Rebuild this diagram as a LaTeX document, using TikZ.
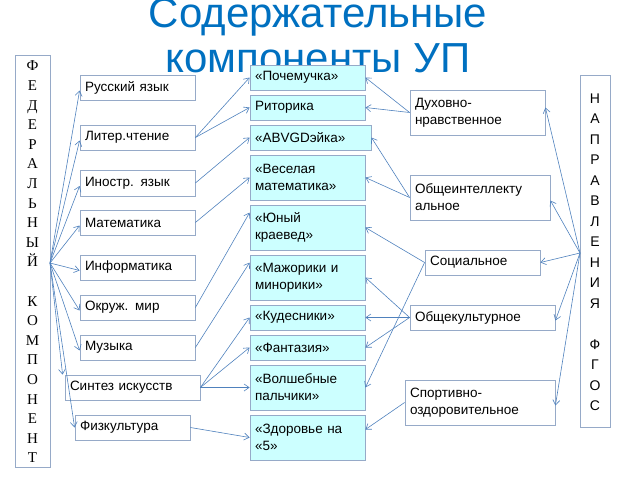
\documentclass[tikz,border=0pt]{standalone}
\usepackage{fontspec}
\setmainfont{Liberation Sans}
\newfontfamily\serifc{Liberation Serif}
\usetikzlibrary{arrows.meta}
\definecolor{arr}{RGB}{79,129,189}
\definecolor{bord}{RGB}{150,170,200}
\definecolor{cy}{RGB}{204,255,255}
\definecolor{ttl}{RGB}{0,112,192}
\tikzset{
 bx/.style={draw=bord,line width=0.8pt,fill=white,font=\fontsize{13.5}{17}\selectfont,inner sep=3pt},
 cb/.style={bx,fill=cy},
 ar/.style={draw=arr,line width=0.6pt,-{Straight Barb[length=5pt,width=7pt]}},
}
% box: name, x1,y1,x2,y2, style, text
\newcommand{\mybox}[7]{\node[#6,minimum width={(#4-#2)*1pt},minimum height={(#5-#3)*1pt},text width={(#4-#2-10)*1pt},align=left] (#1) at ({(#2+#4)/2},{(#3+#5)/2}) {#7};}
\begin{document}
\begin{tikzpicture}[x=1pt,y=-1pt]
\useasboundingbox (0,0) rectangle (640,480);
\node[text=ttl,font=\fontsize{42}{45}\selectfont,align=center] (title) at (318,36) {Содержательные\\компоненты УП};
\node[draw=bord,line width=0.8pt,fill=white,minimum width=35pt,minimum height=412pt,inner sep=0pt] (F) at (32.5,261) {};
\node[font=\serifc\fontsize{15}{19.6}\selectfont,align=center] (Ft) at (32.5,262) {Ф\\Е\\Д\\Е\\Р\\А\\Л\\Ь\\Н\\Ы\\Й\\[19.6pt]К\\О\\М\\П\\О\\Н\\Е\\Н\\Т};
\node[draw=bord,line width=0.8pt,fill=white,minimum width=30pt,minimum height=352pt,inner sep=0pt] (N) at (595,251) {};
\node[font=\fontsize{14}{20.5}\selectfont,align=center] (Nt) at (595,252) {Н\\А\\П\\Р\\А\\В\\Л\\Е\\Н\\И\\Я\\[20.5pt]Ф\\Г\\О\\С};
\coordinate (Fo) at (50,263);
\coordinate (No) at (580,253);
% left
\mybox{l1}{80}{75}{195}{100}{bx}{Русский язык}
\mybox{l2}{80}{125}{195}{150}{bx}{Литер.чтение}
\mybox{l3}{80}{170}{195}{196}{bx}{Иностр. язык}
\mybox{l4}{80}{210}{195}{235}{bx}{Математика}
\mybox{l5}{80}{255}{195}{280}{bx}{Информатика}
\mybox{l6}{80}{295}{195}{320}{bx}{Окруж. мир}
\mybox{l7}{80}{335}{195}{360}{bx}{Музыка}
\mybox{l8}{65}{375}{200}{400}{bx}{Синтез искусств}
\mybox{l9}{75}{415}{190}{440}{bx}{Физкультура}
% middle
\mybox{m1}{250}{65}{365}{90}{cb}{«Почемучка»}
\mybox{m2}{250}{95}{365}{120}{cb}{Риторика}
\mybox{m3}{250}{125}{371}{150}{cb}{«ABVGDэйка»}
\mybox{m4}{250}{155}{365}{200}{cb}{«Веселая\\математика»}
\mybox{m5}{250}{205}{365}{250}{cb}{«Юный\\краевед»}
\mybox{m6}{250}{255}{365}{300}{cb}{«Мажорики и\\минорики»}
\mybox{m7}{250}{305}{365}{330}{cb}{«Кудесники»}
\mybox{m8}{250}{335}{365}{360}{cb}{«Фантазия»}
\mybox{m9}{250}{365}{365}{410}{cb}{«Волшебные\\пальчики»}
\mybox{m10}{250}{415}{365}{460}{cb}{«Здоровье на\\«5»}
% right
\mybox{r1}{410}{90}{545}{135}{bx}{Духовно-\\нравственное}
\mybox{r2}{410}{175}{550}{220}{bx}{Общеинтеллекту\\альное}
\mybox{r3}{425}{250}{540}{275}{bx}{Социальное}
\mybox{r4}{410}{305}{555}{330}{bx}{Общекультурное}
\mybox{r5}{405}{380}{555}{425}{bx}{Спортивно-\\оздоровительное}
% F arrows
\foreach \t in {l1,l2,l3,l4,l5,l6,l7} \draw[ar] (Fo) -- ([yshift=-3pt]\t.west);
\draw[ar] (Fo) -- ([xshift=-2pt]l8.north west);
\draw[ar] (Fo) -- (l9.west);
% left to middle
\draw[ar] (l2.east) -- (m1.west);
\draw[ar] (l2.east) -- (m2.west);
\draw[ar] (l3.east) -- (m3.west);
\draw[ar] (l4.east) -- (m4.west);
\draw[ar] (l6.east) -- ([yshift=-8pt]m5.north west);
\draw[ar] (l7.east) -- ([yshift=-8pt]m6.north west);
\draw[ar] (l8.east) -- (m7.west);
\draw[ar] (l8.east) -- (m8.west);
\draw[ar] (l8.east) -- (m9.west);
\draw[ar] (l9.east) -- (m10.west);
% right to middle
\draw[ar] (r1.west) -- (m1.east);
\draw[ar] (r1.west) -- (m2.east);
\draw[ar] (r2.west) -- (m3.east);
\draw[ar] (r2.west) -- (m4.east);
\draw[ar] (r3.west) -- (m5.east);
\draw[ar] (r3.west) -- (m9.east);
\draw[ar] (r4.west) -- (m6.east);
\draw[ar] (r4.west) -- (m7.east);
\draw[ar] (r4.west) -- (m8.east);
\draw[ar] (r5.west) -- ([yshift=8pt]m10.east);
% N arrows
\draw[ar] (No) -- ([yshift=5pt]r1.east);
\draw[ar] (No) -- ([yshift=-3pt]r2.east);
\draw[ar] (No) -- (r3.east);
\draw[ar] (No) -- ([yshift=-3pt]r4.east);
\draw[ar] (No) -- ([yshift=-3pt]r5.east);
\end{tikzpicture}
\end{document}
